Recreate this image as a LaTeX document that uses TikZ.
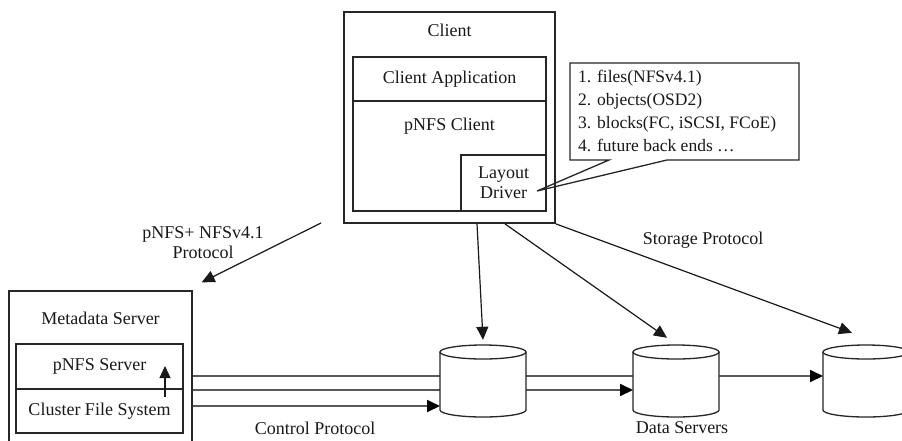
\documentclass[tikz,border=0pt]{standalone}
\usepackage{fontspec}
\setmainfont{Liberation Serif}
\usetikzlibrary{arrows.meta,calc}
\begin{document}
\begin{tikzpicture}[x=1pt,y=-1pt,
  every node/.style={font=\fontsize{18}{20}\selectfont, text=black!90, inner sep=0pt},
  box/.style={draw=black!85, line width=1.3pt, fill=white},
  arr/.style={-{Triangle[length=13pt,width=12pt]}, line width=1.2pt, draw=black!90},
  ctl/.style={line width=1.8pt, draw=black!65, -{Triangle[length=13pt,width=12pt,color=black]}},
  cyl/.pic={
    \node[inner sep=0pt, minimum width=86pt, minimum height=72pt] (-n) at (0,0) {};
    \draw[line width=1.3pt, draw=black!85, fill=white] (-43,-29) -- (-43,29)
      arc[start angle=180, end angle=360, x radius=43pt, y radius=7pt] -- (43,-29);
    \draw[line width=1.3pt, draw=black!85, fill=white] (0,-29) ellipse [x radius=43pt, y radius=7pt];
  }
]
\useasboundingbox (0,0) rectangle (902,440);
\clip (0,0) rectangle (902,440);
\fill[white] (0,0) rectangle (902,440);

% Client
\node[box, line width=1.8pt, minimum width=211pt, minimum height=211pt] (client) at (449.5,117.5) {};
\node (clientlbl) at (449.5,30) {Client};
\node[box, minimum width=193pt, minimum height=44pt] (app) at (449.5,79) {Client Application};
\node[box, minimum width=193pt, minimum height=110pt] (pc) at (449.5,156) {};
\node (pclbl) at (449.5,126) {pNFS Client};
\node[box, minimum width=85pt, minimum height=56pt, align=center] (ld) at (503.5,183) {Layout\\Driver};

% Callout
\draw[draw=black!85, line width=1.3pt] (570,63) -- (799,63) -- (799,160) -- (667,160) -- (537,191) -- (609,160) -- (570,160) -- cycle;
\node[align=left, anchor=west, font=\fontsize{17.5}{23}\selectfont] (callout) at (578,110.5)
  {1. files(NFSv4.1)\\2. objects(OSD2)\\3. blocks(FC, iSCSI, FCoE)\\4. future back ends …};

% Metadata server
\node[box, minimum width=183pt, minimum height=160pt] (mds) at (100.5,371) {};
\node (mdslbl) at (100.5,318) {Metadata Server};
\node[box, minimum width=167pt, minimum height=45pt] (ps) at (99.5,366.5) {pNFS Server};
\node[box, minimum width=167pt, minimum height=44pt] (cfs) at (99.5,411) {Cluster File System};
\coordinate (u1) at (165,397);
\coordinate (u2) at (165,366);
\draw[arr, -{Triangle[length=12pt,width=11pt]}] (u1) -- (u2);

% data server positions (pics drawn after control lines)
\path (483,381) coordinate (c1) (676,381) coordinate (c2) (866,381) coordinate (c3);

% Control lines
\draw[ctl] (mds.east |- 0,376) -- (823,376);
\draw[ctl] (mds.east |- 0,390) -- (633,390);
\draw[ctl] (mds.east |- 0,406) -- (440,406);

% Data servers
\pic (ds1) at (c1) {cyl};
\pic (ds2) at (c2) {cyl};
\pic (ds3) at (c3) {cyl};

% Client arrows
\coordinate (p1) at (321,223);
\draw[arr] (p1) -- ($(mds.north east)+(9,-8)$);
\draw[arr] (client.south -| 477,0) -- ($(ds1-n.north)+(0,-5)$);
\draw[arr] (client.south -| 505,0) -- ($(ds2-n.north)+(-9,-7)$);
\draw[arr] (client.south east) -- ($(ds3-n.north)+(-14,-12)$);

% Labels
\node[align=center] (l1) at (203,243) {pNFS+ NFSv4.1\\Protocol};
\node (l2) at (703,240) {Storage Protocol};
\node (l3) at (315,428) {Control Protocol};
\node (l4) at (682,428) {Data Servers};
\end{tikzpicture}
\end{document}
